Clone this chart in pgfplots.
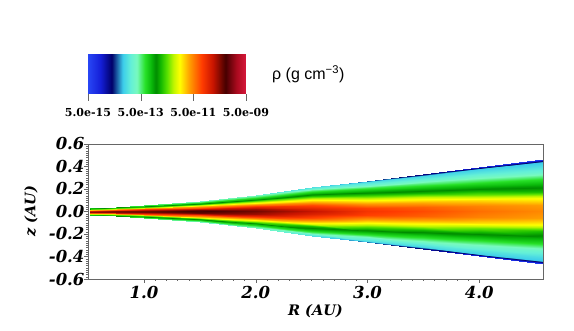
\documentclass[border=0pt]{standalone}
\usepackage{fontspec}
\setmainfont{DejaVu Serif}
\newfontfamily\labelsans{Liberation Sans}
\usepackage{pgfplots}
\pgfplotsset{compat=1.18}
\usetikzlibrary{calc}

% colour table (position 0..100 along the bar)
\pgfplotsset{
  colormap={rho}{
    rgb255(0pt)=(40,70,245);
    rgb255(8pt)=(20,30,215);
    rgb255(15pt)=(0,0,105);
    rgb255(22pt)=(60,205,235);
    rgb255(27pt)=(100,240,215);
    rgb255(31pt)=(120,250,190);
    rgb255(36pt)=(40,225,40);
    rgb255(40pt)=(10,185,10);
    rgb255(43pt)=(0,140,0);
    rgb255(46pt)=(20,185,0);
    rgb255(50pt)=(90,225,0);
    rgb255(54pt)=(190,245,0);
    rgb255(58pt)=(255,255,0);
    rgb255(64pt)=(255,160,0);
    rgb255(72pt)=(255,60,0);
    rgb255(79pt)=(200,20,0);
    rgb255(87pt)=(70,0,0);
    rgb255(94pt)=(170,10,30);
    rgb255(100pt)=(215,25,60)
  }
}

\begin{document}
\begin{tikzpicture}
\path[use as bounding box] (-88pt,-52pt) rectangle (486pt,279pt);
\begin{axis}[
    scale only axis,
    width=455pt, height=135pt,
    xmin=0.5, xmax=4.57, ymin=-0.6, ymax=0.6,
    xtick={1,2,3,4}, xticklabels={1.0,2.0,3.0,4.0},
    ytick={-0.6,-0.4,-0.2,0,0.2,0.4,0.6},
    yticklabels={-0.6,-0.4,-0.2,0.0,0.2,0.4,0.6},
    minor x tick num=9, minor y tick num=9,
    xtick pos=left, ytick pos=left,
    tick align=outside,
    major tick length=4pt, minor tick length=2pt,
    axis line style={draw=black!60},
    tick style={black!60},
    ticklabel style={font=\fontsize{16.5}{17}\selectfont\bfseries\itshape},
    yticklabel style={xshift=4pt},
    xlabel={R (AU)}, ylabel={z (AU)},
    label style={font=\fontsize{14.5}{15}\selectfont\bfseries\itshape},
    xlabel style={at={(axis description cs:0.5,0)}, anchor=center, yshift=-32pt},
    ylabel style={at={(axis description cs:-0.1253,0.5)}, anchor=center},
    colormap name=rho,
    point meta min=-14.301, point meta max=-8.301,
    colorbar horizontal,
    colorbar/width=39pt,
    colorbar style={
        at={($(parent axis.north west)+(0pt,59pt)$)}, anchor=south west,
        scale only axis, width=158pt, height=39pt,
        xtick={-14.301,-12.301,-10.301,-8.301},
        xticklabels={5.0e-15,5.0e-13,5.0e-11,5.0e-09},
        xticklabel style={font=\fontsize{11}{11}\selectfont\bfseries\upshape, yshift=-4pt},
        xtick pos=left, xticklabel pos=left,
        tick align=outside, major tick length=7pt,
        axis line style={draw=none},
        tick style={black!60},
    },
]
% log10(rho) on scanlines of constant R, z from -h(R) to +h(R)
\addplot[surf, shader=interp, mesh/cols=19, mesh/rows=10, point meta=explicit]
  table[x=R, y=Z, meta=L] {
R Z L
0.52 -0.030 -12.10
0.52 -0.0285 -11.95
0.52 -0.0261 -11.75
0.52 -0.0225 -11.45
0.52 -0.0186 -11.05
0.52 -0.015 -10.60
0.52 -0.0114 -10.10
0.52 -0.0075 -9.65
0.52 -0.0036 -9.35
0.52 0 -9.25
0.52 0.0036 -9.35
0.52 0.0075 -9.65
0.52 0.0114 -10.10
0.52 0.015 -10.60
0.52 0.0186 -11.05
0.52 0.0225 -11.45
0.52 0.0261 -11.75
0.52 0.0285 -11.95
0.52 0.030 -12.10
0.75 -0.042 -12.15
0.75 -0.0399 -11.95
0.75 -0.0365 -11.75
0.75 -0.0315 -11.40
0.75 -0.0260 -11.00
0.75 -0.021 -10.55
0.75 -0.0160 -10.05
0.75 -0.0105 -9.60
0.75 -0.0050 -9.30
0.75 0 -9.20
0.75 0.0050 -9.30
0.75 0.0105 -9.60
0.75 0.0160 -10.05
0.75 0.021 -10.55
0.75 0.0260 -11.00
0.75 0.0315 -11.40
0.75 0.0365 -11.75
0.75 0.0399 -11.95
0.75 0.042 -12.15
1.0 -0.055 -12.25
1.0 -0.0523 -12.05
1.0 -0.0479 -11.85
1.0 -0.0413 -11.45
1.0 -0.0341 -11.00
1.0 -0.0275 -10.50
1.0 -0.0209 -10.00
1.0 -0.0138 -9.55
1.0 -0.0066 -9.25
1.0 0 -9.15
1.0 0.0066 -9.25
1.0 0.0138 -9.55
1.0 0.0209 -10.00
1.0 0.0275 -10.50
1.0 0.0341 -11.00
1.0 0.0413 -11.45
1.0 0.0479 -11.85
1.0 0.0523 -12.05
1.0 0.055 -12.25
1.5 -0.090 -12.50
1.5 -0.0855 -12.30
1.5 -0.0783 -12.00
1.5 -0.0675 -11.60
1.5 -0.0558 -11.10
1.5 -0.045 -10.60
1.5 -0.0342 -10.05
1.5 -0.0225 -9.55
1.5 -0.0108 -9.20
1.5 0 -9.05
1.5 0.0108 -9.20
1.5 0.0225 -9.55
1.5 0.0342 -10.05
1.5 0.045 -10.60
1.5 0.0558 -11.10
1.5 0.0675 -11.60
1.5 0.0783 -12.00
1.5 0.0855 -12.30
1.5 0.090 -12.50
2.0 -0.150 -12.70
2.0 -0.1425 -12.50
2.0 -0.1305 -12.25
2.0 -0.1125 -11.90
2.0 -0.093 -11.30
2.0 -0.075 -10.80
2.0 -0.057 -10.25
2.0 -0.0375 -9.75
2.0 -0.018 -9.40
2.0 0 -9.25
2.0 0.018 -9.40
2.0 0.0375 -9.75
2.0 0.057 -10.25
2.0 0.075 -10.80
2.0 0.093 -11.30
2.0 0.1125 -11.90
2.0 0.1305 -12.25
2.0 0.1425 -12.50
2.0 0.150 -12.70
2.5 -0.215 -12.85
2.5 -0.2043 -12.60
2.5 -0.1871 -12.35
2.5 -0.1613 -11.95
2.5 -0.1333 -11.50
2.5 -0.1075 -10.95
2.5 -0.0817 -10.50
2.5 -0.0538 -10.05
2.5 -0.0258 -9.70
2.5 0 -9.55
2.5 0.0258 -9.70
2.5 0.0538 -10.05
2.5 0.0817 -10.50
2.5 0.1075 -10.95
2.5 0.1333 -11.50
2.5 0.1613 -11.95
2.5 0.1871 -12.35
2.5 0.2043 -12.60
2.5 0.215 -12.85
3.0 -0.275 -13.20
3.0 -0.2613 -12.85
3.0 -0.2393 -12.60
3.0 -0.2063 -12.20
3.0 -0.1705 -11.80
3.0 -0.1375 -11.35
3.0 -0.1045 -10.85
3.0 -0.0688 -10.40
3.0 -0.033 -10.00
3.0 0 -9.90
3.0 0.033 -10.00
3.0 0.0688 -10.40
3.0 0.1045 -10.85
3.0 0.1375 -11.35
3.0 0.1705 -11.80
3.0 0.2063 -12.20
3.0 0.2393 -12.60
3.0 0.2613 -12.85
3.0 0.275 -13.20
3.5 -0.335 -13.60
3.5 -0.3183 -12.90
3.5 -0.2915 -12.70
3.5 -0.2513 -12.35
3.5 -0.2077 -11.95
3.5 -0.1675 -11.55
3.5 -0.1273 -11.05
3.5 -0.0838 -10.55
3.5 -0.0402 -10.15
3.5 0 -10.05
3.5 0.0402 -10.15
3.5 0.0838 -10.55
3.5 0.1273 -11.05
3.5 0.1675 -11.55
3.5 0.2077 -11.95
3.5 0.2513 -12.35
3.5 0.2915 -12.70
3.5 0.3183 -12.90
3.5 0.335 -13.60
4.0 -0.395 -14.00
4.0 -0.3753 -12.95
4.0 -0.3437 -12.75
4.0 -0.2963 -12.45
4.0 -0.2449 -12.05
4.0 -0.1975 -11.72
4.0 -0.1501 -11.25
4.0 -0.0988 -10.70
4.0 -0.0474 -10.32
4.0 0 -10.22
4.0 0.0474 -10.32
4.0 0.0988 -10.70
4.0 0.1501 -11.25
4.0 0.1975 -11.72
4.0 0.2449 -12.05
4.0 0.2963 -12.45
4.0 0.3437 -12.75
4.0 0.3753 -12.95
4.0 0.395 -14.00
4.57 -0.465 -14.30
4.57 -0.4418 -13.00
4.57 -0.4046 -12.85
4.57 -0.3488 -12.60
4.57 -0.2883 -12.15
4.57 -0.2325 -11.85
4.57 -0.1767 -11.50
4.57 -0.1163 -10.85
4.57 -0.0558 -10.45
4.57 0 -10.35
4.57 0.0558 -10.45
4.57 0.1163 -10.85
4.57 0.1767 -11.50
4.57 0.2325 -11.85
4.57 0.2883 -12.15
4.57 0.3488 -12.60
4.57 0.4046 -12.85
4.57 0.4418 -13.00
4.57 0.465 -14.30
};
\end{axis}
\node[anchor=west, inner sep=0pt, font=\labelsans\fontsize{16}{16}\selectfont]
  at (184pt,205pt) {ρ (g cm\textsuperscript{−3})};
\end{tikzpicture}
\end{document}
